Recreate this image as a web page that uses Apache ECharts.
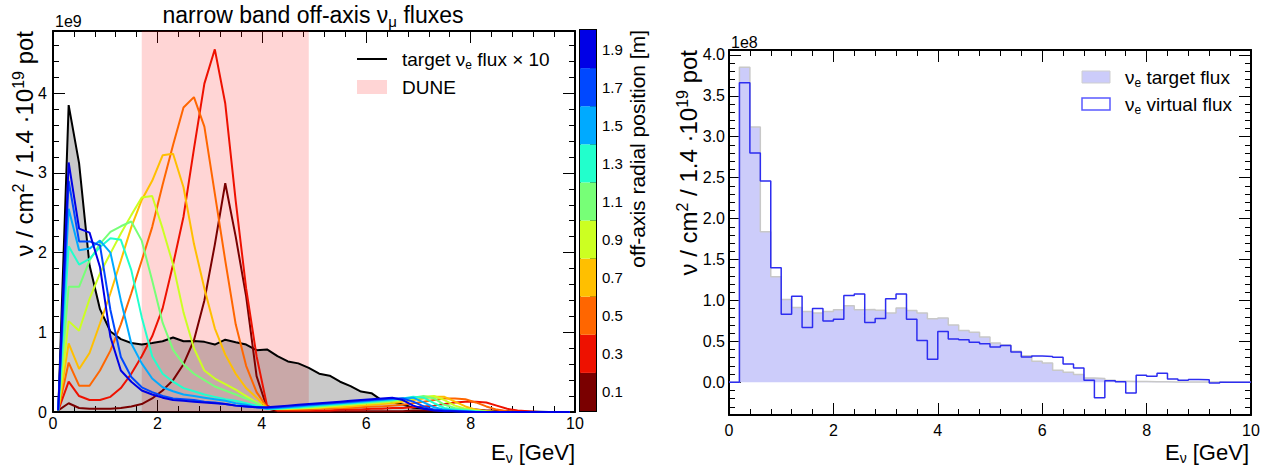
<!DOCTYPE html>
<html><head><meta charset="utf-8">
<script src="https://cdn.jsdelivr.net/npm/echarts@6/dist/echarts.min.js"></script>
<style>html,body{margin:0;padding:0;background:#fff}#c{width:1272px;height:468px}</style>
</head><body><div id="c"></div>
<script>
const FONT = '"Liberation Sans", Arial, Helvetica, sans-serif';

// ---------- data ----------
const energyCenters = [0.1,0.3,0.5,0.7,0.9,1.1,1.3,1.5,1.7,1.9,2.1,2.3,2.5,2.7,2.9,3.1,3.3,3.5,3.7,3.9,
  4.1,4.3,4.5,4.7,4.9,5.1,5.3,5.5,5.7,5.9,6.1,6.3,6.5,6.7,6.9,7.1,7.3,7.5,7.7,7.9,
  8.1,8.3,8.5,8.7,8.9,9.1,9.3,9.5,9.7,9.9];
const binEdges = [0,0.2,0.4,0.6,0.8,1.0,1.2,1.4,1.6,1.8,2.0,2.2,2.4,2.6,2.8,3.0,3.2,3.4,3.6,3.8,
  4.0,4.2,4.4,4.6,4.8,5.0,5.2,5.4,5.6,5.8,6.0,6.2,6.4,6.6,6.8,7.0,7.2,7.4,7.6,7.8,
  8.0,8.2,8.4,8.6,8.8,9.0,9.2,9.4,9.6,9.8,10.0];

const offAxisPositions = ['0.1','0.3','0.5','0.7','0.9','1.1','1.3','1.5','1.7','1.9'];
const offAxisBandEdges = [0,0.2,0.4,0.6,0.8,1.0,1.2,1.4,1.6,1.8,2.0];
const offAxisColors = ['#7a0000','#ee1100','#ff6600','#ffbf00','#ccff22','#77ff77','#22ffcc','#00aaff','#0048ff','#0000e6'];

const fluxR01 = [0.02,0.11,0.05,0.04,0.04,0.04,0.05,0.07,0.10,0.17,
  0.27,0.40,0.60,0.90,1.40,2.10,2.87,2.20,1.45,0.45,
  0.05,0.01,0.01,0.01,0.01,0.01,0.01,0.01,0.01,0.01,
  0.01,0.01,0.01,0.01,0.02,0.02,0.02,0.02,0.03,0.03,
  0.03,0.02,0.02,0.01,0.01,0,0,0,0,0];
const fluxR03 = [0.02,0.38,0.20,0.15,0.15,0.19,0.30,0.48,0.70,0.95,
  1.30,1.85,2.45,3.30,4.12,4.55,3.87,2.65,1.55,0.70,
  0.08,0.02,0.02,0.02,0.02,0.02,0.02,0.03,0.03,0.03,
  0.04,0.04,0.05,0.05,0.06,0.07,0.08,0.10,0.12,0.13,
  0.13,0.12,0.08,0.04,0.02,0.01,0,0,0,0];
const fluxR05 = [0.02,0.62,0.33,0.33,0.52,0.77,1.10,1.49,1.90,2.32,
  2.85,3.35,3.82,3.95,3.58,2.74,1.90,1.10,0.58,0.25,
  0.06,0.03,0.03,0.03,0.03,0.04,0.04,0.05,0.05,0.06,
  0.07,0.07,0.08,0.09,0.11,0.13,0.15,0.17,0.17,0.16,
  0.12,0.07,0.03,0.01,0,0,0,0,0,0];
const fluxR07 = [0.02,0.86,0.54,0.74,1.11,1.49,1.90,2.32,2.66,2.90,
  3.22,3.24,2.82,2.11,1.55,1.05,0.72,0.48,0.30,0.18,
  0.05,0.04,0.04,0.04,0.05,0.05,0.06,0.06,0.07,0.08,
  0.09,0.10,0.11,0.13,0.15,0.17,0.19,0.19,0.13,0.07,
  0.03,0.01,0,0,0,0,0,0,0,0];
const fluxR09 = [0.02,1.14,1.02,1.42,1.74,1.99,2.24,2.47,2.69,2.71,
  2.30,1.85,1.25,0.80,0.52,0.42,0.35,0.28,0.20,0.12,
  0.04,0.04,0.04,0.05,0.05,0.06,0.07,0.08,0.09,0.10,
  0.11,0.12,0.13,0.15,0.17,0.19,0.20,0.15,0.08,0.04,
  0.02,0.01,0,0,0,0,0,0,0,0];
const fluxR11 = [0.02,1.57,1.57,1.90,2.11,2.26,2.33,2.39,2.15,1.65,
  1.12,0.78,0.60,0.48,0.40,0.32,0.27,0.22,0.17,0.11,
  0.04,0.04,0.05,0.05,0.06,0.07,0.08,0.09,0.10,0.11,
  0.12,0.13,0.14,0.16,0.18,0.20,0.17,0.09,0.05,0.03,
  0.01,0,0,0,0,0,0,0,0,0];
const fluxR13 = [0.02,2.08,1.85,1.92,2.07,2.18,2.16,1.78,1.19,0.70,
  0.48,0.38,0.30,0.26,0.22,0.19,0.16,0.14,0.11,0.08,
  0.04,0.04,0.05,0.06,0.07,0.08,0.09,0.10,0.11,0.12,
  0.13,0.14,0.15,0.17,0.19,0.18,0.11,0.05,0.03,0.02,
  0.01,0,0,0,0,0,0,0,0,0];
const fluxR15 = [0.02,2.55,2.03,2.05,2.15,2.00,1.40,0.86,0.61,0.42,
  0.31,0.26,0.22,0.20,0.18,0.16,0.14,0.11,0.09,0.06,
  0.04,0.05,0.06,0.07,0.08,0.09,0.10,0.11,0.12,0.13,
  0.14,0.15,0.16,0.17,0.18,0.12,0.06,0.03,0.02,0.01,
  0,0,0,0,0,0,0,0,0,0];
const fluxR17 = [0.02,2.90,2.14,2.14,2.09,1.28,0.69,0.44,0.31,0.25,
  0.20,0.17,0.16,0.15,0.13,0.12,0.10,0.08,0.07,0.06,
  0.05,0.06,0.07,0.08,0.09,0.10,0.11,0.12,0.13,0.14,
  0.15,0.16,0.17,0.17,0.13,0.07,0.03,0.02,0.01,0.01,
  0,0,0,0,0,0,0,0,0,0];
const fluxR19 = [0.02,3.13,2.30,2.25,1.82,0.94,0.52,0.38,0.27,0.22,
  0.18,0.15,0.14,0.13,0.12,0.11,0.10,0.08,0.07,0.06,
  0.06,0.07,0.08,0.09,0.10,0.11,0.12,0.13,0.14,0.15,
  0.16,0.17,0.18,0.15,0.08,0.04,0.02,0.01,0.01,0,
  0,0,0,0,0,0,0,0,0,0];
const offAxisFluxes = [fluxR01,fluxR03,fluxR05,fluxR07,fluxR09,fluxR11,fluxR13,fluxR15,fluxR17,fluxR19];

// target nu_e flux per bin (1e8 /cm2/1.4e19 pot); x10 in 1e9 units gives the same numbers
const targetNueFlux = [0,3.85,3.12,1.84,1.29,1.01,0.915,0.866,0.846,0.866,
  0.887,0.935,0.887,0.89,0.88,0.846,0.907,0.876,0.846,0.775,
  0.785,0.70,0.634,0.61,0.553,0.48,0.456,0.38,0.325,0.256,
  0.236,0.146,0.122,0.094,0.053,0.045,0.025,0.013,0.01,0.008,
  0.006,0.005,0.004,0.003,0.003,0.002,0.002,0.001,0.001,0.001];
const virtualNueFlux = [0,3.66,2.80,2.46,1.40,0.83,1.05,0.67,0.90,0.75,
  0.77,1.06,1.08,0.73,0.78,1.02,1.08,0.77,0.51,0.28,
  0.62,0.53,0.52,0.49,0.47,0.43,0.45,0.37,0.31,0.32,
  0.315,0.305,0.224,0.175,0.025,-0.19,0.02,0.005,-0.13,0.086,
  0.074,0.11,0.04,0.025,0.035,0.03,-0.01,0,0,0];

const duneBand = [1.7, 4.9];
const rightYTicks = [0,0.5,1.0,1.5,2.0,2.5,3.0,3.5,4.0];
const colorbarLabels = [0.1,0.3,0.5,0.7,0.9,1.1,1.3,1.5,1.7,1.9];

// ---------- helpers ----------
function rich(size) {
  const s = Math.round(size * 0.65);
  return {
    n: {fontSize: size, fontFamily: FONT, lineHeight: size + 4, color: '#000', fill: '#000'},
    sub: {fontSize: s, fontFamily: FONT, lineHeight: Math.round(size*0.45), verticalAlign: 'bottom', color: '#000', fill: '#000'},
    sup: {fontSize: s, fontFamily: FONT, lineHeight: Math.round(size*0.45), verticalAlign: 'top', color: '#000', fill: '#000'}
  };
}
function txt(x, y, text, size, align, vAlign, rot) {
  return {type: 'text', x: x, y: y, rotation: rot || 0, silent: true, z: 100,
    style: {text: text, rich: rich(size), font: size + 'px ' + FONT, fontSize: size, fontFamily: FONT,
      fill: '#000', align: align, textAlign: align, verticalAlign: vAlign, textVerticalAlign: vAlign}};
}
const tickStyle = {color: '#000', width: 1};
function xAx(grid, pos, labels, margin) {
  return {type: 'value', gridIndex: grid, position: pos, min: 0, max: 10, interval: 2,
    axisLine: {show: true, onZero: false, lineStyle: {color: '#000', width: 2}},
    axisTick: {show: true, inside: true, length: 12, lineStyle: tickStyle},
    minorTick: {show: true, splitNumber: 5, length: 6, lineStyle: tickStyle},
    axisLabel: {show: labels, fontSize: 16, fontFamily: FONT, color: '#000', margin: margin},
    splitLine: {show: false}, minorSplitLine: {show: false}};
}
function histData(vals) {
  return binEdges.map((x, i) => [x, vals[Math.min(i, vals.length - 1)]]);
}

// ---------- axes ----------
const xAxes = [
  xAx(0, 'bottom', true, 3), xAx(0, 'top', false, 0),
  xAx(1, 'bottom', true, 7), xAx(1, 'top', false, 0),
  {type: 'category', gridIndex: 2, data: ['bar'], show: false}
];
const yLeftMin = 0, yLeftMax = 4.78, yRightMin = -0.4, yRightMax = 4.06;
function yAx(grid, pos, min, max, opts) {
  return Object.assign({type: 'value', gridIndex: grid, position: pos, min: min, max: max,
    axisLine: {show: false, onZero: false}, splitLine: {show: false},
    axisLabel: {show: false}}, opts);
}
const yAxes = [
  // left plot
  yAx(0, 'left', yLeftMin, yLeftMax, {interval: 1,
    axisLine: {show: true, onZero: false, lineStyle: {color: '#000', width: 2}},
    axisTick: {show: true, inside: true, length: 12, lineStyle: tickStyle},
    axisLabel: {show: true, fontSize: 16, fontFamily: FONT, color: '#000', margin: 6, showMaxLabel: false}}),
  yAx(0, 'left', yLeftMin, yLeftMax, {interval: 0.2, axisTick: {show: true, inside: true, length: 6, lineStyle: tickStyle}}),
  yAx(0, 'right', yLeftMin, yLeftMax, {interval: 1,
    axisLine: {show: true, onZero: false, lineStyle: {color: '#000', width: 2}},
    axisTick: {show: true, inside: true, length: 12, lineStyle: tickStyle}}),
  yAx(0, 'right', yLeftMin, yLeftMax, {interval: 0.2, axisTick: {show: true, inside: true, length: 6, lineStyle: tickStyle}}),
  // right plot
  yAx(1, 'left', yRightMin, yRightMax, {
    axisLine: {show: true, onZero: false, lineStyle: {color: '#000', width: 2}},
    axisTick: {show: true, inside: true, length: 12, lineStyle: tickStyle, customValues: rightYTicks},
    axisLabel: {show: true, fontSize: 16, fontFamily: FONT, color: '#000', margin: 4, customValues: rightYTicks,
      formatter: v => v.toFixed(1)}}),
  yAx(1, 'left', yRightMin, yRightMax, {interval: 0.1, axisTick: {show: true, inside: true, length: 6, lineStyle: tickStyle}}),
  yAx(1, 'right', yRightMin, yRightMax, {
    axisLine: {show: true, onZero: false, lineStyle: {color: '#000', width: 2}},
    axisTick: {show: true, inside: true, length: 12, lineStyle: tickStyle, customValues: rightYTicks}}),
  yAx(1, 'right', yRightMin, yRightMax, {interval: 0.1, axisTick: {show: true, inside: true, length: 6, lineStyle: tickStyle}}),
  // colour bar
  yAx(2, 'right', 0, 2, {interval: 0.1,
    axisTick: {show: true, inside: true, length: 6, lineStyle: tickStyle},
    axisLabel: {show: true, fontSize: 15, fontFamily: FONT, color: '#000', margin: 6, customValues: colorbarLabels,
      formatter: v => v.toFixed(1)}})
];

// ---------- series ----------
const series = [];
series.push({type: 'line', name: 'DUNE', xAxisIndex: 0, yAxisIndex: 0, data: [], z: 1, silent: true,
  markArea: {silent: true, itemStyle: {color: 'rgba(255,0,0,0.165)'},
    data: [[{xAxis: duneBand[0]}, {xAxis: duneBand[1]}]]}});
series.push({type: 'line', name: 'target nue flux x 10', xAxisIndex: 0, yAxisIndex: 0, z: 2,
  data: energyCenters.map((e, i) => [e, targetNueFlux[i]]), showSymbol: false, symbol: 'none',
  lineStyle: {color: '#000', width: 2}, areaStyle: {color: 'rgba(0,0,0,0.30)', origin: 0}});
offAxisFluxes.forEach((arr, k) => {
  series.push({type: 'line', name: offAxisPositions[k] + ' m', xAxisIndex: 0, yAxisIndex: 0, z: 3,
    data: energyCenters.map((e, i) => [e, arr[i]]), showSymbol: false, symbol: 'none',
    lineStyle: {color: offAxisColors[k], width: 2}});
});
// right plot
series.push({type: 'line', name: 'nue target flux', xAxisIndex: 2, yAxisIndex: 4, z: 2, step: 'end',
  data: histData(targetNueFlux), showSymbol: false, symbol: 'none',
  lineStyle: {color: '#c8c8c8', width: 1.5}, areaStyle: {color: '#ccccfa', origin: 0, opacity: 1}});
series.push({type: 'line', name: 'nue virtual flux', xAxisIndex: 2, yAxisIndex: 4, z: 3, step: 'end',
  data: histData(virtualNueFlux), showSymbol: false, symbol: 'none',
  lineStyle: {color: '#2d2df0', width: 1.5}});
// colour bar
offAxisColors.forEach((c, k) => {
  series.push({type: 'bar', name: 'band ' + offAxisPositions[k], xAxisIndex: 4, yAxisIndex: 8, stack: 'cb',
    barWidth: '100%', silent: true, data: [+(offAxisBandEdges[k + 1] - offAxisBandEdges[k]).toFixed(2)],
    itemStyle: {color: c}});
});

// ---------- graphics (titles, legends) ----------
const graphics = [
  txt(313, 15, '{n|narrow band off-axis ν}{sub|μ}{n| fluxes}', 23, 'center', 'middle'),
  txt(55, 21, '{n|1e9}', 16, 'left', 'middle'),
  txt(24, 31, '{n|ν / cm}{sup|2}{n| / 1.4 ·10}{sup|19}{n| pot}', 24, 'right', 'middle', Math.PI / 2),
  txt(575, 452, '{n|E}{sub|ν}{n| [GeV]}', 22, 'right', 'middle'),
  txt(637, 30, '{n|off-axis radial position [m]}', 21, 'right', 'middle', Math.PI / 2),
  {type: 'line', silent: true, z: 100, shape: {x1: 357, y1: 59, x2: 387, y2: 59}, style: {stroke: '#000', lineWidth: 2}},
  txt(402, 59, '{n|target ν}{sub|e}{n| flux × 10}', 19, 'left', 'middle'),
  {type: 'rect', silent: true, z: 100, shape: {x: 357, y: 80, width: 30, height: 14}, style: {fill: 'rgba(255,0,0,0.165)'}},
  txt(402, 87, '{n|DUNE}', 19, 'left', 'middle'),
  // right plot
  txt(731, 42, '{n|1e8}', 16, 'left', 'middle'),
  txt(688, 50, '{n|ν / cm}{sup|2}{n| / 1.4 ·10}{sup|19}{n| pot}', 24, 'right', 'middle', Math.PI / 2),
  txt(1249, 452, '{n|E}{sub|ν}{n| [GeV]}', 22, 'right', 'middle'),
  {type: 'rect', silent: true, z: 100, shape: {x: 1082, y: 71, width: 28, height: 12}, style: {fill: '#ccccfa', stroke: '#cfcfcf', lineWidth: 1}},
  txt(1125, 77, '{n|ν}{sub|e}{n| target flux}', 19, 'left', 'middle'),
  {type: 'rect', silent: true, z: 100, shape: {x: 1082, y: 98, width: 28, height: 12}, style: {fill: '#fff', stroke: '#5a5aff', lineWidth: 1.5}},
  txt(1125, 104, '{n|ν}{sub|e}{n| virtual flux}', 19, 'left', 'middle')
];

const chart = echarts.init(document.getElementById('c'), null, {renderer: 'svg', width: 1272, height: 468});
chart.setOption({
  animation: false,
  backgroundColor: '#fff',
  textStyle: {fontFamily: FONT},
  grid: [
    {left: 53, top: 31, width: 522, height: 381, containLabel: false},
    {left: 729, top: 50, width: 522, height: 365, containLabel: false},
    {left: 580, top: 30, width: 16, height: 381, containLabel: false, show: true, borderColor: '#000', borderWidth: 2, backgroundColor: 'transparent'}
  ],
  xAxis: xAxes,
  yAxis: yAxes,
  series: series,
  graphic: {elements: graphics}
});
</script>
</body></html>
